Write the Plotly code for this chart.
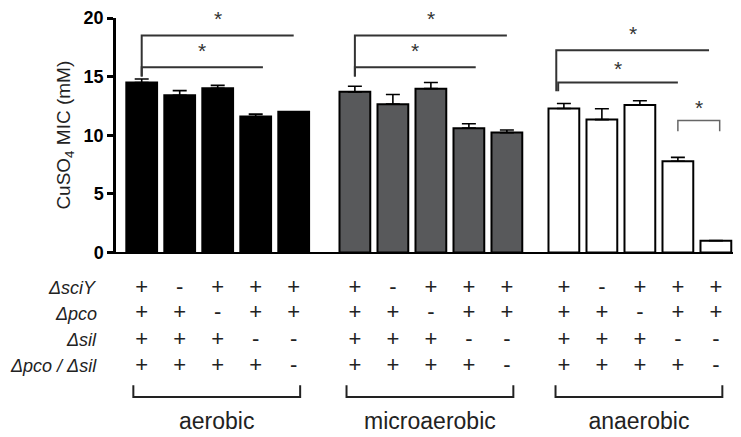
import plotly.graph_objects as go

# ---------------- data ----------------
groups = ["aerobic", "microaerobic", "anaerobic"]
aerobic_mean = [14.5, 13.4, 14.0, 11.6, 12.0]
aerobic_top = [14.8, 13.8, 14.25, 11.8, 12.0]
micro_mean = [13.7, 12.65, 13.97, 10.6, 10.22]
micro_top = [14.17, 13.47, 14.5, 10.97, 10.44]
anaer_mean = [12.28, 11.33, 12.58, 7.78, 1.0]
anaer_top = [12.7, 12.25, 12.94, 8.11, 1.0]

row_labels = ["ΔsciY", "Δpco", "Δsil", "Δpco / Δsil"]
row_signs = [
    ["+", "-", "+", "+", "+"],
    ["+", "+", "-", "+", "+"],
    ["+", "+", "+", "-", "-"],
    ["+", "+", "+", "+", "-"],
]
y_ticks = [0, 5, 10, 15, 20]

# significance comparisons: (group, bar_from, bar_to, level, stem_bottom, closed)
comparisons = [
    (0, 0, 4, 18.5, 15.0, False),
    (0, 0, 3.19, 15.8, 15.0, False),
    (1, 0, 4, 18.5, 15.0, False),
    (1, 0, 3.18, 15.8, 15.0, False),
    (2, -0.2, 3.82, 17.25, 13.75, False),
    (2, -0.15, 3.0, 14.5, 13.75, False),
    (2, 3.0, 4.1, 11.25, 10.33, True),
]
star_levels = [19.95, 17.2, 19.95, 17.2, 18.65, 15.7, 12.35]

# ---------------- layout constants ----------------
W, H = 741, 437
ML, MR, MT, MB = 108, 1, 10, 0
PH = H - MT - MB
main_bottom_px = 250
main_dom0 = (H - MB - main_bottom_px) / PH
tab_dom1 = 0.42
tab_top_px = H - MB - tab_dom1 * PH

group_start = [0.0, 5.61, 11.11]
bar_w = 0.81
FONT = "Liberation Sans, Arial, sans-serif"
fills = ["#000000", "#58595b", "#ffffff"]
means = [aerobic_mean, micro_mean, anaer_mean]
tops = [aerobic_top, micro_top, anaer_top]

fig = go.Figure()

for g in range(3):
    xs = [group_start[g] + i for i in range(5)]
    fig.add_trace(go.Bar(
        x=xs, y=means[g], width=bar_w,
        marker=dict(color=fills[g], line=dict(color="#000000", width=2)),
        error_y=dict(type="data", symmetric=False,
                     array=[t - m for t, m in zip(tops[g], means[g])],
                     arrayminus=[0] * 5, color="#000000", thickness=1.6, width=7),
        xaxis="x", yaxis="y",
    ))

# significance brackets
for (g, a, b, lev, bot, closed), sl in zip(comparisons, star_levels):
    x0 = group_start[g] + a
    x1 = group_start[g] + b
    if closed:
        xs = [x0, x0, x1, x1]
        ys = [bot, lev, lev, bot]
        col, lw = "#666666", 1.5
    else:
        xs = [x0, x0, x1]
        ys = [bot, lev, lev]
        col, lw = "#333333", 2
    fig.add_trace(go.Scatter(x=xs, y=ys, mode="lines",
                             line=dict(color=col, width=lw),
                             xaxis="x", yaxis="y", cliponaxis=False))
    fig.add_annotation(x=(x0 + x1) / 2, y=sl, xref="x", yref="y", text="*",
                       showarrow=False, font=dict(family=FONT, size=21, color="#333333"),
                       yanchor="middle")

# table
row_y = [286.7, 313.0, 340.0, 366.7]
for r in range(4):
    xs, ts = [], []
    for g in range(3):
        for i in range(5):
            xs.append(group_start[g] + i)
            ts.append(row_signs[r][i])
    fig.add_trace(go.Scatter(x=xs, y=[row_y[r]] * len(xs), mode="text", text=ts,
                             textfont=dict(family=FONT, size=22, color="#222222"),
                             xaxis="x2", yaxis="y2"))
    fig.add_annotation(x=-(ML - 91) / (W - ML - MR), y=row_y[r], xref="paper", yref="y2",
                       text="<i>" + row_labels[r] + "</i>", showarrow=False,
                       xanchor="right", yanchor="middle",
                       font=dict(family=FONT, size=18, color="#222222"))

br_top, br_bot = 386, 398
for g in range(3):
    x0 = group_start[g] - 0.22
    x1 = group_start[g] + 4 + 0.17
    fig.add_trace(go.Scatter(x=[x0, x0, x1, x1], y=[br_top, br_bot, br_bot, br_top],
                             mode="lines", line=dict(color="#222222", width=2),
                             xaxis="x2", yaxis="y2"))
    fig.add_trace(go.Scatter(x=[(x0 + x1) / 2], y=[424.5], mode="text", text=[groups[g]],
                             textfont=dict(family=FONT, size=23, color="#222222"),
                             xaxis="x2", yaxis="y2"))

xr = [(ML - 133.7) / 38.0, (740 - 133.7) / 38.0]
fig.update_layout(
    width=W, height=H,
    margin=dict(l=ML, r=MR, t=MT, b=MB),
    paper_bgcolor="white", plot_bgcolor="white",
    showlegend=False, hovermode=False,
    xaxis=dict(range=xr, domain=[0, 1], showline=True, linewidth=2, linecolor="#000000",
               ticks="", showticklabels=False, showgrid=False, zeroline=False,
               anchor="y"),
    yaxis=dict(range=[0, 20], domain=[main_dom0, 1], tickvals=y_ticks,
               ticktext=["<b>%d</b>" % v for v in y_ticks],
               showline=True, linewidth=2.5, linecolor="#000000",
               ticks="outside", ticklen=6, tickwidth=2.5, tickcolor="#000000",
               tickfont=dict(family=FONT, size=18, color="#000000"),
               showgrid=False, zeroline=False, anchor="x",
               title=dict(text="CuSO<sub>4</sub> MIC (mM)", standoff=8,
                          font=dict(family=FONT, size=19, color="#222222"))),
    xaxis2=dict(range=xr, domain=[0, 1], visible=False, anchor="y2", matches="x"),
    yaxis2=dict(range=[H - MB, tab_top_px], domain=[0, tab_dom1], visible=False,
                anchor="x2"),
)

fig.write_html("out.html")
